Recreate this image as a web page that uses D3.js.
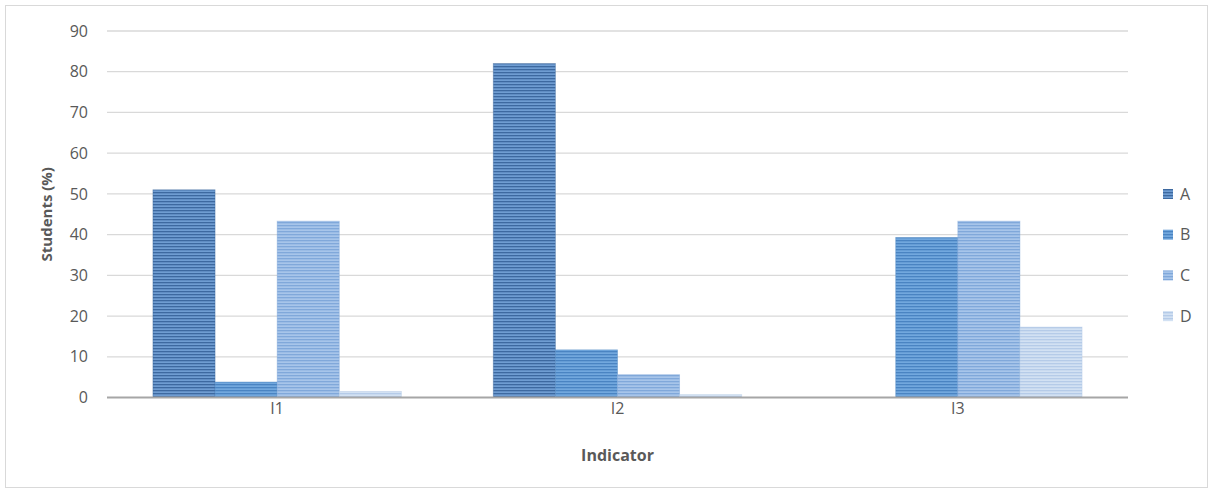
<!DOCTYPE html>
<html><head><meta charset="utf-8">
<script src="https://cdn.jsdelivr.net/npm/d3@7"></script>
<style>body{margin:0;background:#fff}svg{display:block}text{font-family:"Open Sans","Liberation Sans",sans-serif;fill:#595959}</style>
</head><body><svg id="c" width="1212" height="493"></svg>
<script>
const categories = ["I1","I2","I3"];
const seriesNames = ["A","B","C","D"];
const valuesA = [51, 82, 0];
const valuesB = [3.8, 11.7, 39.3];
const valuesC = [43.3, 5.6, 43.3];
const valuesD = [1.5, 0.7, 17.3];
const yTicks = [0,10,20,30,40,50,60,70,80,90];
const series = [valuesA, valuesB, valuesC, valuesD];
const baseCol = ["#6f9dd2","#72a8de","#a7c5ea","#d2e1f3"];
const stripeCol = ["#3d69a0","#4a84c2","#80a8da","#b5cbe8"];

const svg = d3.select("#c");
const m = {l:107, r:1128, t:31, b:397.5};
svg.append("rect").attr("x",5.5).attr("y",5.5).attr("width",1202).attr("height",482)
  .attr("fill","#fff").attr("stroke","#d9d9d9");

const defs = svg.append("defs");
seriesNames.forEach((s,i)=>{
  const p = defs.append("pattern").attr("id","p"+i).attr("patternUnits","userSpaceOnUse")
    .attr("width",8).attr("height",3);
  p.append("rect").attr("width",8).attr("height",3).attr("fill",baseCol[i]);
  p.append("rect").attr("y",0).attr("width",8).attr("height",1.3).attr("fill",stripeCol[i]);
});

const x0 = d3.scaleBand().domain(categories).range([m.l,m.r]).paddingInner(0.27).paddingOuter(0.135);
const x1 = d3.scaleBand().domain(seriesNames).range([0,x0.bandwidth()]);
const y = d3.scaleLinear().domain([0,90]).range([m.b,m.t]);

svg.append("g").selectAll("line").data(yTicks.filter(d=>d>0)).join("line")
  .attr("x1",m.l).attr("x2",m.r).attr("y1",d=>y(d)).attr("y2",d=>y(d))
  .attr("stroke","#d9d9d9").attr("stroke-width",1.3);

const yAxis = svg.append("g").attr("transform",`translate(${m.l},0)`)
  .call(d3.axisLeft(y).tickValues(yTicks).tickSize(0).tickPadding(19));
yAxis.select(".domain").remove();
yAxis.selectAll("text").style("font-size","16px").attr("fill","#595959");

categories.forEach((c,ci)=>{
  series.forEach((vals,si)=>{
    if(vals[ci] <= 0) return;
    svg.append("rect")
      .attr("x",x0(c)+x1(seriesNames[si]))
      .attr("y",y(vals[ci]))
      .attr("width",x1.bandwidth())
      .attr("height",y(0)-y(vals[ci]))
      .attr("fill",`url(#p${si})`)
      .attr("stroke",stripeCol[si]).attr("stroke-opacity",0.5).attr("stroke-width",0.8);
  });
});

svg.append("line").attr("x1",m.l).attr("x2",m.r).attr("y1",y(0)).attr("y2",y(0))
  .attr("stroke","#a6a6a6").attr("stroke-width",2);

const xAxis = svg.append("g").attr("transform",`translate(0,${y(0)})`)
  .call(d3.axisBottom(x0).tickSize(0).tickPadding(5));
xAxis.select(".domain").remove();
xAxis.selectAll("text").style("font-size","16px").attr("fill","#595959");

svg.append("text").attr("x",(m.l+m.r)/2).attr("y",461).attr("text-anchor","middle")
  .style("font-size","16px").style("font-weight","bold").text("Indicator");
svg.append("text").attr("transform",`translate(52,${(m.t+m.b)/2}) rotate(-90)`)
  .attr("text-anchor","middle").style("font-size","15px").style("font-weight","bold").text("Students (%)");

const lg = svg.append("g");
seriesNames.forEach((s,i)=>{
  const yy = 194 + i*40.7;
  lg.append("rect").attr("x",1163).attr("y",yy-5).attr("width",10).attr("height",10).attr("fill",`url(#p${i})`);
  lg.append("text").attr("x",1180).attr("y",yy).attr("dy","0.35em").style("font-size","16px").text(s);
});
</script></body></html>
